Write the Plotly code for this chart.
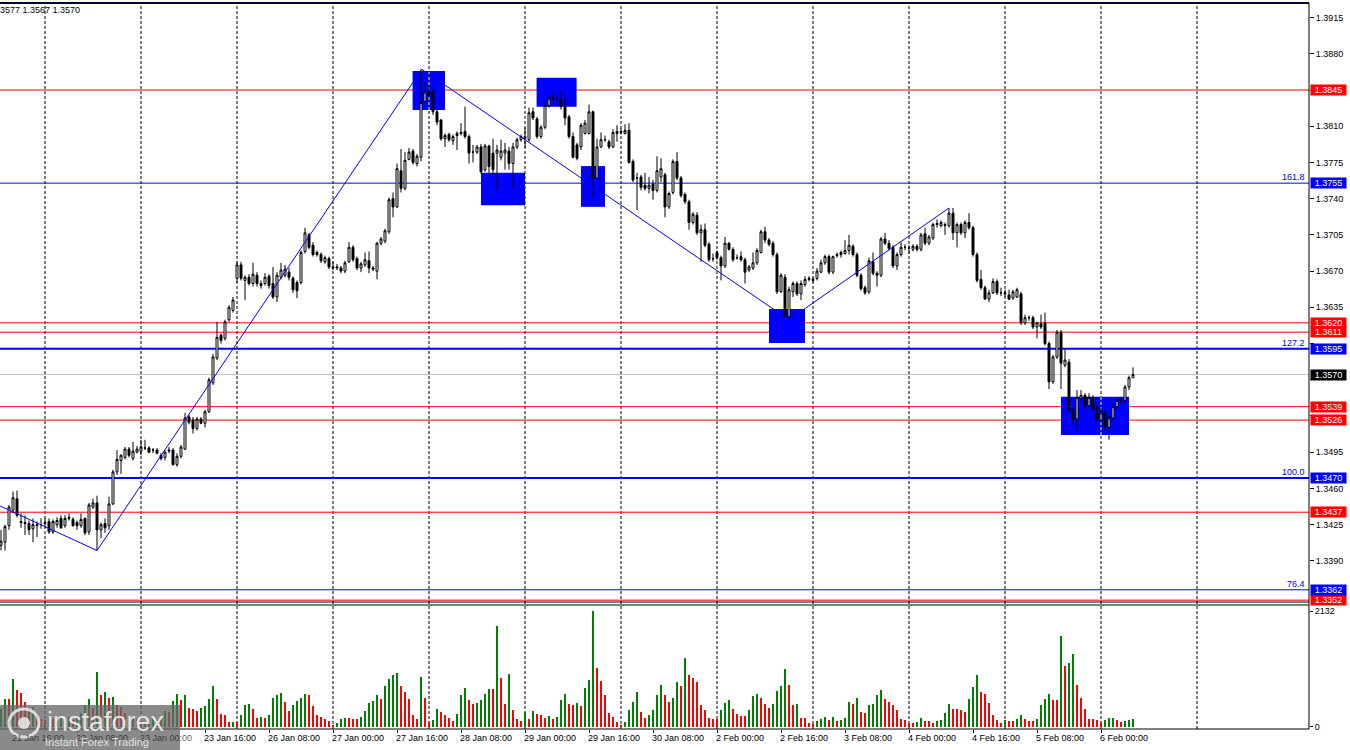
import plotly.graph_objects as go

FONT = "Liberation Sans"

# H1 bars, weekends removed. Bar index 0 = 22 Jan 00:00, first visible bar = 21 Jan 13:00
first_bar = -11

open_ = (
    [1.3405,1.3408,1.3424,1.3439,1.3450,1.3428,1.3427,1.3426,1.3421,1.3424,1.3425]
    + [1.3426,1.3428,1.3418,1.3425,1.3431,1.3424,1.3431,1.3430,1.3427,1.3424,1.3431,1.3418,1.3442,1.3446,1.3420,1.3426,1.3424,1.3445,1.3476,1.3487,1.3490,1.3498,1.3489,1.3495]
    + [1.3496,1.3499,1.3499,1.3497,1.3497,1.3492,1.3490,1.3496,1.3497,1.3483,1.3491,1.3498,1.3529,1.3526,1.3518,1.3527,1.3523,1.3534,1.3562,1.3586,1.3608,1.3605,1.3623,1.3632]
    + [1.3663,1.3676,1.3661,1.3664,1.3658,1.3666,1.3658,1.3658,1.3665,1.3658,1.3645,1.3664,1.3666,1.3669,1.3663,1.3659,1.3659,1.3689,1.3705,1.3695,1.3688,1.3686,1.3679,1.3682]
    + [1.3674,1.3673,1.3673,1.3670,1.3679,1.3693,1.3682,1.3673,1.3676,1.3680,1.3673,1.3670,1.3697,1.3699,1.3708,1.3740,1.3732,1.3767,1.3750,1.3778,1.3786,1.3774,1.3780,1.3834]
    + [1.3843,1.3843,1.3824,1.3816,1.3798,1.3802,1.3796,1.3801,1.3803,1.3805,1.3800,1.3785,1.3785,1.3790,1.3768,1.3791,1.3784,1.3784,1.3780,1.3784,1.3786,1.3774,1.3790,1.3797]
    + [1.3798,1.3797,1.3824,1.3817,1.3800,1.3809,1.3830,1.3838,1.3836,1.3835,1.3829,1.3819,1.3800,1.3792,1.3790,1.3803,1.3803,1.3824,1.3760,1.3790,1.3797,1.3795,1.3790,1.3803]
    + [1.3804,1.3803,1.3806,1.3776,1.3760,1.3761,1.3753,1.3750,1.3754,1.3748,1.3761,1.3763,1.3732,1.3746,1.3776,1.3760,1.3744,1.3737,1.3717,1.3724,1.3707,1.3710,1.3696,1.3682]
    + [1.3688,1.3683,1.3675,1.3697,1.3691,1.3683,1.3684,1.3681,1.3671,1.3673,1.3678,1.3688,1.3708,1.3700,1.3697,1.3686,1.3650,1.3664,1.3626,1.3650,1.3658,1.3648,1.3657,1.3662]
    + [1.3662,1.3663,1.3669,1.3678,1.3684,1.3669,1.3685,1.3686,1.3687,1.3690,1.3694,1.3686,1.3666,1.3654,1.3650,1.3679,1.3668,1.3666,1.3701,1.3697,1.3693,1.3675,1.3686,1.3693]
    + [1.3692,1.3691,1.3694,1.3691,1.3706,1.3697,1.3702,1.3715,1.3714,1.3715,1.3714,1.3726,1.3707,1.3715,1.3707,1.3717,1.3712,1.3686,1.3662,1.3654,1.3643,1.3649,1.3660,1.3649]
    + [1.3649,1.3647,1.3644,1.3645,1.3648,1.3620,1.3625,1.3625,1.3616,1.3619,1.3620,1.3600,1.3563,1.3587,1.3611,1.3579,1.3582,1.3536,1.3527,1.3547,1.3550,1.3540,1.3548,1.3539]
    + [1.3526,1.3533,1.3519,1.3528,1.3539,1.3545,1.3545,1.3558,1.3567]
)

high = (
    [1.3420,1.3425,1.3444,1.3457,1.3458,1.3436,1.3434,1.3429,1.3431,1.3428,1.3431]
    + [1.3431,1.3431,1.3430,1.3432,1.3434,1.3434,1.3436,1.3432,1.3429,1.3436,1.3432,1.3446,1.3450,1.3453,1.3427,1.3431,1.3452,1.3478,1.3497,1.3493,1.3500,1.3500,1.3505,1.3501]
    + [1.3507,1.3507,1.3501,1.3499,1.3499,1.3494,1.3497,1.3500,1.3499,1.3494,1.3502,1.3533,1.3531,1.3529,1.3529,1.3529,1.3536,1.3567,1.3590,1.3621,1.3610,1.3623,1.3637,1.3645]
    + [1.3679,1.3679,1.3666,1.3667,1.3678,1.3669,1.3661,1.3668,1.3667,1.3674,1.3669,1.3678,1.3676,1.3673,1.3665,1.3661,1.3690,1.3712,1.3707,1.3698,1.3690,1.3688,1.3685,1.3684]
    + [1.3679,1.3677,1.3675,1.3680,1.3698,1.3695,1.3684,1.3679,1.3688,1.3689,1.3675,1.3698,1.3703,1.3711,1.3741,1.3746,1.3774,1.3788,1.3785,1.3789,1.3788,1.3783,1.3865,1.3852]
    + [1.3850,1.3846,1.3826,1.3817,1.3803,1.3804,1.3802,1.3805,1.3813,1.3829,1.3802,1.3792,1.3792,1.3793,1.3793,1.3792,1.3798,1.3792,1.3797,1.3794,1.3790,1.3794,1.3799,1.3802]
    + [1.3809,1.3828,1.3828,1.3819,1.3811,1.3832,1.3839,1.3843,1.3840,1.3845,1.3840,1.3821,1.3804,1.3794,1.3813,1.3816,1.3831,1.3825,1.3798,1.3804,1.3801,1.3797,1.3807,1.3811]
    + [1.3808,1.3812,1.3813,1.3778,1.3765,1.3763,1.3765,1.3761,1.3758,1.3781,1.3779,1.3765,1.3747,1.3778,1.3785,1.3762,1.3746,1.3739,1.3727,1.3727,1.3715,1.3716,1.3698,1.3687]
    + [1.3690,1.3685,1.3703,1.3698,1.3693,1.3686,1.3689,1.3683,1.3676,1.3688,1.3692,1.3710,1.3713,1.3702,1.3699,1.3688,1.3668,1.3667,1.3655,1.3660,1.3660,1.3661,1.3665,1.3665]
    + [1.3664,1.3673,1.3681,1.3686,1.3686,1.3685,1.3688,1.3690,1.3700,1.3705,1.3696,1.3688,1.3668,1.3656,1.3683,1.3688,1.3670,1.3703,1.3707,1.3700,1.3695,1.3688,1.3698,1.3696]
    + [1.3695,1.3696,1.3696,1.3707,1.3712,1.3705,1.3717,1.3720,1.3719,1.3717,1.3731,1.3731,1.3717,1.3717,1.3719,1.3726,1.3714,1.3688,1.3671,1.3656,1.3652,1.3663,1.3662,1.3654]
    + [1.3652,1.3652,1.3652,1.3654,1.3650,1.3628,1.3627,1.3627,1.3621,1.3628,1.3630,1.3602,1.3589,1.3613,1.3613,1.3594,1.3585,1.3538,1.3555,1.3555,1.3552,1.3552,1.3550,1.3541]
    + [1.3538,1.3536,1.3530,1.3541,1.3547,1.3548,1.3560,1.3569,1.3577]
)

low = (
    [1.3400,1.3400,1.3420,1.3436,1.3432,1.3422,1.3415,1.3415,1.3408,1.3413,1.3421]
    + [1.3422,1.3416,1.3416,1.3422,1.3421,1.3422,1.3429,1.3423,1.3420,1.3422,1.3415,1.3415,1.3440,1.3400,1.3412,1.3417,1.3420,1.3444,1.3473,1.3474,1.3488,1.3490,1.3487,1.3494]
    + [1.3492,1.3497,1.3494,1.3494,1.3493,1.3487,1.3487,1.3494,1.3482,1.3481,1.3489,1.3497,1.3522,1.3513,1.3516,1.3522,1.3519,1.3533,1.3560,1.3584,1.3600,1.3603,1.3621,1.3630]
    + [1.3659,1.3661,1.3642,1.3656,1.3655,1.3655,1.3653,1.3656,1.3653,1.3643,1.3640,1.3662,1.3664,1.3661,1.3649,1.3644,1.3657,1.3687,1.3691,1.3684,1.3684,1.3678,1.3677,1.3672]
    + [1.3671,1.3671,1.3668,1.3668,1.3678,1.3679,1.3671,1.3669,1.3674,1.3668,1.3670,1.3662,1.3695,1.3697,1.3706,1.3722,1.3731,1.3746,1.3748,1.3777,1.3773,1.3771,1.3776,1.3833]
    + [1.3838,1.3821,1.3811,1.3796,1.3790,1.3795,1.3792,1.3787,1.3801,1.3798,1.3774,1.3775,1.3783,1.3764,1.3766,1.3765,1.3763,1.3748,1.3777,1.3768,1.3768,1.3750,1.3788,1.3795]
    + [1.3789,1.3795,1.3816,1.3798,1.3798,1.3807,1.3828,1.3834,1.3833,1.3826,1.3811,1.3798,1.3779,1.3777,1.3787,1.3802,1.3802,1.3741,1.3758,1.3789,1.3795,1.3788,1.3789,1.3795]
    + [1.3802,1.3802,1.3774,1.3756,1.3729,1.3748,1.3748,1.3745,1.3739,1.3746,1.3756,1.3722,1.3730,1.3744,1.3758,1.3741,1.3735,1.3710,1.3715,1.3705,1.3679,1.3693,1.3679,1.3679]
    + [1.3681,1.3661,1.3673,1.3690,1.3679,1.3681,1.3679,1.3658,1.3669,1.3671,1.3676,1.3687,1.3697,1.3694,1.3684,1.3648,1.3649,1.3625,1.3623,1.3645,1.3646,1.3642,1.3655,1.3660]
    + [1.3659,1.3661,1.3668,1.3676,1.3667,1.3667,1.3683,1.3683,1.3686,1.3686,1.3684,1.3664,1.3651,1.3647,1.3648,1.3666,1.3655,1.3664,1.3695,1.3690,1.3673,1.3671,1.3684,1.3690]
    + [1.3687,1.3689,1.3689,1.3689,1.3695,1.3695,1.3700,1.3712,1.3712,1.3705,1.3712,1.3700,1.3693,1.3705,1.3702,1.3710,1.3684,1.3659,1.3652,1.3642,1.3640,1.3648,1.3647,1.3646]
    + [1.3645,1.3642,1.3642,1.3644,1.3618,1.3618,1.3622,1.3614,1.3605,1.3614,1.3598,1.3556,1.3561,1.3585,1.3556,1.3577,1.3534,1.3522,1.3516,1.3545,1.3537,1.3538,1.3535,1.3524]
    + [1.3524,1.3517,1.3507,1.3526,1.3537,1.3542,1.3543,1.3555,1.3567]
)

close = (
    [1.3409,1.3423,1.3442,1.3451,1.3434,1.3427,1.3426,1.3420,1.3425,1.3425,1.3425]
    + [1.3427,1.3418,1.3428,1.3429,1.3422,1.3431,1.3432,1.3424,1.3424,1.3430,1.3417,1.3444,1.3446,1.3420,1.3425,1.3422,1.3445,1.3476,1.3488,1.3492,1.3498,1.3492,1.3496,1.3498]
    + [1.3500,1.3499,1.3495,1.3497,1.3494,1.3489,1.3495,1.3497,1.3483,1.3491,1.3500,1.3528,1.3524,1.3518,1.3527,1.3523,1.3534,1.3565,1.3587,1.3606,1.3603,1.3621,1.3635,1.3642]
    + [1.3676,1.3663,1.3664,1.3658,1.3667,1.3658,1.3656,1.3664,1.3656,1.3645,1.3666,1.3671,1.3672,1.3664,1.3652,1.3651,1.3688,1.3707,1.3693,1.3686,1.3686,1.3680,1.3683,1.3674]
    + [1.3673,1.3674,1.3670,1.3678,1.3693,1.3681,1.3673,1.3677,1.3681,1.3673,1.3672,1.3697,1.3701,1.3709,1.3739,1.3732,1.3769,1.3750,1.3777,1.3785,1.3775,1.3781,1.3833,1.3843]
    + [1.3840,1.3824,1.3814,1.3798,1.3801,1.3797,1.3800,1.3803,1.3804,1.3800,1.3784,1.3785,1.3790,1.3766,1.3791,1.3771,1.3768,1.3787,1.3786,1.3787,1.3774,1.3790,1.3797,1.3800]
    + [1.3800,1.3823,1.3818,1.3800,1.3809,1.3830,1.3837,1.3836,1.3836,1.3829,1.3818,1.3800,1.3780,1.3779,1.3811,1.3813,1.3824,1.3760,1.3790,1.3797,1.3797,1.3790,1.3804,1.3805]
    + [1.3805,1.3806,1.3775,1.3758,1.3760,1.3751,1.3750,1.3753,1.3748,1.3767,1.3769,1.3732,1.3745,1.3776,1.3760,1.3743,1.3737,1.3717,1.3725,1.3707,1.3710,1.3695,1.3681,1.3682]
    + [1.3683,1.3675,1.3697,1.3691,1.3681,1.3683,1.3681,1.3669,1.3674,1.3678,1.3690,1.3708,1.3700,1.3696,1.3686,1.3650,1.3666,1.3626,1.3652,1.3658,1.3648,1.3658,1.3662,1.3663]
    + [1.3661,1.3670,1.3678,1.3684,1.3669,1.3684,1.3686,1.3688,1.3690,1.3695,1.3686,1.3666,1.3653,1.3649,1.3680,1.3668,1.3666,1.3701,1.3697,1.3692,1.3675,1.3686,1.3693,1.3693]
    + [1.3692,1.3694,1.3691,1.3705,1.3697,1.3703,1.3715,1.3716,1.3717,1.3714,1.3726,1.3707,1.3715,1.3707,1.3717,1.3712,1.3686,1.3661,1.3654,1.3643,1.3649,1.3660,1.3649,1.3649]
    + [1.3648,1.3643,1.3650,1.3652,1.3620,1.3625,1.3625,1.3616,1.3620,1.3616,1.3600,1.3563,1.3587,1.3611,1.3581,1.3584,1.3536,1.3526,1.3548,1.3550,1.3540,1.3548,1.3537,1.3526]
    + [1.3533,1.3519,1.3528,1.3539,1.3545,1.3546,1.3558,1.3567,1.3570]
)

volume = (
    [340,520,510,890,675,630,460,340,370,250,150]
    + [120,180,140,160,200,150,180,130,170,260,400,520,350,1020,580,650,540,550,410,370,250,180,210,150]
    + [90,100,120,150,130,200,300,280,480,613,490,595,355,330,300,355,380,520,755,520,245,215,92,100]
    + [92,220,410,420,325,170,180,170,225,540,595,625,460,300,410,470,540,605,590,385,225,190,150,110]
    + [40,75,150,170,160,150,140,185,300,445,485,595,520,755,890,960,1000,750,635,520,215,150,920,530]
    + [90,135,335,275,215,165,110,245,595,715,505,430,445,500,610,700,700,1863,905,430,980,320,150,110]
    + [275,150,295,245,215,165,200,150,180,500,610,430,410,440,385,715,860,2132,1090,840,580,260,180,90]
    + [40,92,320,460,640,275,170,215,320,595,780,580,460,540,830,755,1275,950,905,830,400,305,165,155]
    + [150,305,445,490,335,245,200,200,305,565,615,535,430,355,430,655,750,1060,765,400,430,170,170,80]
    + [60,105,155,185,120,185,105,120,170,460,430,540,275,265,400,420,580,675,510,460,410,305,155,120]
    + [80,80,90,170,110,110,80,105,135,260,430,335,335,305,275,520,735,960,645,610,445,215,125,80]
    + [135,105,105,140,225,155,105,105,155,410,520,610,490,490,1667,1115,1180,1350,780,535,325,155,155,120]
    + [90,120,165,170,135,90,105,125,140]
)

assert len(open_) == len(high) == len(low) == len(close) == len(volume) == 284

time_label_bars = [-8, 8, 24, 40, 56, 72, 88, 104, 120, 136, 152, 168, 184, 200, 216, 232, 248, 264]
time_labels = ["21 Jan 16:00", "22 Jan 08:00", "23 Jan 00:00", "23 Jan 16:00", "26 Jan 08:00",
               "27 Jan 00:00", "27 Jan 16:00", "28 Jan 08:00", "29 Jan 00:00", "29 Jan 16:00",
               "30 Jan 08:00", "2 Feb 00:00", "2 Feb 16:00", "3 Feb 08:00", "4 Feb 00:00",
               "4 Feb 16:00", "5 Feb 08:00", "6 Feb 00:00"]
day_start_bars = [0, 24, 48, 72, 96, 120, 144, 168, 192, 216, 240, 264, 288]

price_ticks = [1.3390, 1.3425, 1.3460, 1.3495, 1.3530, 1.3565, 1.3600, 1.3635,
               1.3670, 1.3705, 1.3740, 1.3775, 1.3810, 1.3845, 1.3880, 1.3915]
hidden_ticks = [1.3530, 1.3565, 1.3600, 1.3845]

red_levels = [1.3845, 1.3620, 1.3611, 1.3539, 1.3526, 1.3437, 1.3352]
blue_levels = [1.3755, 1.3595, 1.3470, 1.3362]
blue_widths = [1, 2, 2, 1]
fib_labels = ["161.8", "127.2", "100.0", "76.4"]
bid_price = 1.3570
header_text = "3577 1.3567 1.3570"

zigzag_bars = [-11.25, 13, 94.2, 186, 226]
zigzag_prices = [1.3443, 1.3400, 1.3865, 1.3623, 1.3731]

zone_start = [91.9, 109.0, 122.9, 134.0, 181.0, 254.0]
zone_end = [100.0, 120.0, 132.9, 140.0, 190.0, 271.0]
zone_top = [1.38634, 1.37650, 1.38569, 1.37715, 1.36334, 1.35486]
zone_bottom = [1.38257, 1.37337, 1.38288, 1.37321, 1.36005, 1.35116]

vol_max_label = 2132

# ---------------- layout geometry ----------------
P_BOTTOM = 0.1749
V_TOP = 0.1708
X_RANGE = [-11.25, 316]
Y_RANGE = [1.33502, 1.39291]
V_RANGE = [-37, 2245]
BLUE = "#0000FF"
RED = "#FF0000"
PLOT_W = 1309

bars = list(range(first_bar, first_bar + len(close)))
vol_colors = ["#008000" if (i == 0 or v > volume[i - 1]) else RED for i, v in enumerate(volume)]

fig = go.Figure()

fig.add_trace(go.Candlestick(
    x=bars, open=open_, high=high, low=low, close=close,
    increasing=dict(line=dict(color="black", width=1), fillcolor="white"),
    decreasing=dict(line=dict(color="black", width=1), fillcolor="black"),
    whiskerwidth=0, xaxis="x", yaxis="y", showlegend=False, hoverinfo="skip"))

fig.add_trace(go.Scatter(
    x=zigzag_bars, y=zigzag_prices, mode="lines",
    line=dict(color=BLUE, width=1), xaxis="x", yaxis="y",
    showlegend=False, hoverinfo="skip"))

fig.add_trace(go.Bar(
    x=bars, y=volume, marker=dict(color=vol_colors, line=dict(width=0)),
    width=0.72, xaxis="x", yaxis="y2", showlegend=False, hoverinfo="skip"))

shapes = []
for k0, k1, top, bot in zip(zone_start, zone_end, zone_top, zone_bottom):
    shapes.append(dict(type="rect", xref="x", yref="y", x0=k0, x1=k1, y0=bot, y1=top,
                       fillcolor=BLUE, line=dict(width=0), layer="below"))
for k in day_start_bars:
    shapes.append(dict(type="line", xref="x", yref="paper", x0=k, x1=k, y0=0, y1=1,
                       line=dict(color="black", width=1, dash="3px,2px"), layer="below"))
    for k0, k1, top, bot in zip(zone_start, zone_end, zone_top, zone_bottom):
        if k0 < k < k1:
            shapes.append(dict(type="line", xref="x", yref="y", x0=k, x1=k, y0=bot, y1=top,
                               line=dict(color="#FFFF00", width=1, dash="3px,2px"), layer="below"))
shapes.append(dict(type="line", xref="paper", yref="y", x0=0, x1=1, y0=bid_price, y1=bid_price,
                   line=dict(color="#C0C0C0", width=1), layer="below"))
for lv in red_levels:
    shapes.append(dict(type="line", xref="paper", yref="y", x0=0, x1=1, y0=lv, y1=lv,
                       line=dict(color=RED, width=1), layer="below"))
for lv, w in zip(blue_levels, blue_widths):
    shapes.append(dict(type="line", xref="paper", yref="y", x0=0, x1=1, y0=lv, y1=lv,
                       line=dict(color=BLUE, width=w), layer="below"))
frame = dict(color="black", width=1)
shapes += [
    dict(type="line", xref="paper", yref="paper", x0=0, x1=1, y0=1, y1=1, line=dict(color="#000033", width=2)),
    dict(type="line", xref="paper", yref="paper", x0=0, x1=1, y0=P_BOTTOM, y1=P_BOTTOM, line=frame),
    dict(type="line", xref="paper", yref="paper", x0=0, x1=1, y0=V_TOP, y1=V_TOP, line=frame),
    dict(type="line", xref="paper", yref="paper", x0=0, x1=1, y0=0, y1=0, line=frame),
    dict(type="line", xref="paper", yref="paper", x0=1, x1=1, y0=0, y1=1, line=frame),
]
# watermark box and logo
shapes.append(dict(type="rect", xref="paper", yref="paper", x0=0, x1=180 / PLOT_W,
                   y0=-21 / 726, y1=24 / 726, fillcolor="rgba(105,105,105,0.78)",
                   line=dict(width=0), layer="above"))
shapes.append(dict(type="circle", xref="paper", yref="paper", x0=9 / PLOT_W, x1=39 / PLOT_W,
                   y0=-8 / 726, y1=20 / 726, line=dict(color="rgba(235,235,235,0.85)", width=3),
                   layer="above"))
shapes.append(dict(type="circle", xref="paper", yref="paper", x0=18 / PLOT_W, x1=30 / PLOT_W,
                   y0=0 / 726, y1=12 / 726, fillcolor="rgba(235,235,235,0.85)",
                   line=dict(width=0), layer="above"))

annotations = []
for k, txt in zip(time_label_bars, time_labels):
    px = 45 + 4 * k
    col = "rgba(30,30,30,0.75)" if px < 180 else "black"
    annotations.append(dict(x=k, xref="x", y=-9 / 726, yref="paper", text=txt, showarrow=False,
                            xanchor="left", yanchor="middle", xshift=-3,
                            font=dict(family=FONT, size=9, color=col)))

def price_box(value, color):
    return dict(x=1, xref="paper", y=value, yref="y", text=f"{value:.4f}", showarrow=False,
                xanchor="left", yanchor="middle", xshift=1, width=35, height=10,
                bgcolor=color, borderpad=0, align="center",
                font=dict(family=FONT, size=9, color="white"))

annotations.append(price_box(bid_price, "black"))
for lv in red_levels:
    annotations.append(price_box(lv, RED))
for lv in blue_levels:
    annotations.append(price_box(lv, BLUE))
for lv, lab in zip(blue_levels, fib_labels):
    annotations.append(dict(x=1, xref="paper", y=lv, yref="y", text=lab, showarrow=False,
                            xanchor="right", yanchor="bottom", xshift=-2, yshift=-1,
                            font=dict(family=FONT, size=9, color=BLUE)))

annotations.append(dict(x=0, xref="paper", y=(726 - 7) / 726, yref="paper", text=header_text,
                        showarrow=False, xanchor="left", yanchor="middle", xshift=-2,
                        font=dict(family=FONT, size=9, color="black")))
annotations.append(dict(x=106 / PLOT_W, xref="paper", y=7 / 726, yref="paper", text="instaforex",
                        showarrow=False, xanchor="center", yanchor="middle",
                        font=dict(family=FONT, size=27, color="rgba(240,240,240,0.92)")))
annotations.append(dict(x=97 / PLOT_W, xref="paper", y=-13 / 726, yref="paper",
                        text="Instant Forex Trading", showarrow=False, xanchor="center",
                        yanchor="middle", font=dict(family=FONT, size=11, color="rgba(235,235,235,0.92)")))

tick_text = ["" if t in hidden_ticks else f"{t:.4f}" for t in price_ticks]

fig.update_layout(
    width=1350, height=750,
    margin=dict(l=0, r=41, t=3, b=21),
    paper_bgcolor="white", plot_bgcolor="white",
    showlegend=False, hovermode=False, bargap=0,
    font=dict(family=FONT, size=9, color="black"),
    xaxis=dict(domain=[0, 1], range=X_RANGE, anchor="y2", showgrid=False, zeroline=False,
               showticklabels=False, tickvals=time_label_bars, ticks="outside", ticklen=3,
               tickcolor="black", showline=False, rangeslider=dict(visible=False), fixedrange=True),
    yaxis=dict(domain=[P_BOTTOM, 1], range=Y_RANGE, side="right", anchor="x", showgrid=False,
               zeroline=False, tickvals=price_ticks, ticktext=tick_text, ticks="outside",
               ticklen=4, tickcolor="black", tickfont=dict(family=FONT, size=9, color="black"),
               showline=False),
    yaxis2=dict(domain=[0, V_TOP], range=V_RANGE, side="right", anchor="x", showgrid=False,
                zeroline=False, tickvals=[0, vol_max_label], ticktext=["0", str(vol_max_label)],
                ticks="outside", ticklen=3, tickcolor="black",
                tickfont=dict(family=FONT, size=9, color="black"), showline=False),
    shapes=shapes,
    annotations=annotations,
)

fig.write_html(
    "out.html",
    config={"displayModeBar": False},
    post_script="document.body.style.margin='0px';document.body.style.padding='0px';"
                "document.body.style.overflow='hidden';",
)
